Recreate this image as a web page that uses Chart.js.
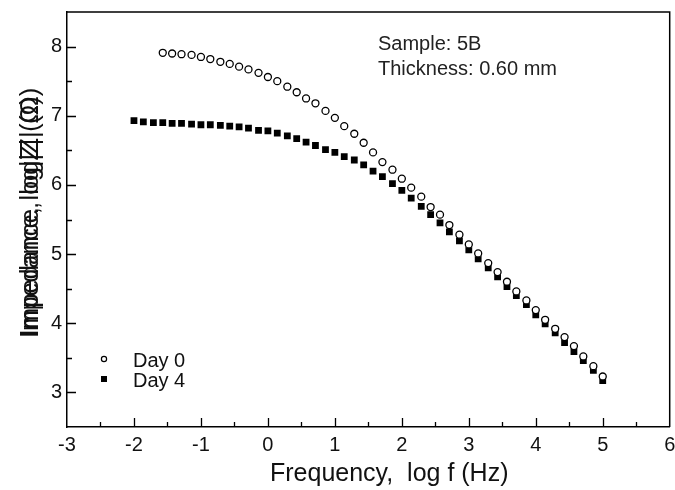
<!DOCTYPE html>
<html>
<head>
<meta charset="utf-8">
<script src="https://cdn.jsdelivr.net/npm/chart.js@4.4.0/dist/chart.umd.min.js"></script>
<style>
  html, body { margin: 0; padding: 0; background: #fff; }
</style>
</head>
<body>
<canvas id="impChart" width="675" height="490"></canvas>
<script>
'use strict';

// log f (Hz), 7 points per decade
const logFreq = [
  -2.00, -1.86, -1.71, -1.57, -1.43, -1.29, -1.14, -1.00, -0.86, -0.71,
  -0.57, -0.43, -0.29, -0.14, 0.00, 0.14, 0.29, 0.43, 0.57, 0.71,
  0.86, 1.00, 1.14, 1.29, 1.43, 1.57, 1.71, 1.86, 2.00, 2.14,
  2.29, 2.43, 2.57, 2.71, 2.86, 3.00, 3.14, 3.29, 3.43, 3.57,
  3.71, 3.86, 4.00, 4.14, 4.29, 4.43, 4.57, 4.71, 4.86, 5.00
];

// Day 0 starts at the 4th frequency
const day0 = [
  null, null, null, 7.91, 7.90, 7.89, 7.88, 7.85, 7.82, 7.78,
  7.75, 7.71, 7.67, 7.62, 7.56, 7.50, 7.42, 7.34, 7.25, 7.18,
  7.07, 6.97, 6.85, 6.74, 6.61, 6.47, 6.33, 6.22, 6.09, 5.96,
  5.83, 5.68, 5.57, 5.42, 5.28, 5.14, 5.01, 4.87, 4.74, 4.60,
  4.46, 4.33, 4.19, 4.05, 3.92, 3.80, 3.67, 3.52, 3.38, 3.23
];

const day4 = [
  6.93, 6.91, 6.90, 6.90, 6.89, 6.89, 6.88, 6.87, 6.87, 6.86,
  6.85, 6.84, 6.82, 6.79, 6.78, 6.75, 6.71, 6.67, 6.62, 6.57,
  6.51, 6.47, 6.41, 6.36, 6.29, 6.20, 6.12, 6.02, 5.92, 5.81,
  5.69, 5.57, 5.45, 5.32, 5.19, 5.06, 4.93, 4.80, 4.67, 4.53,
  4.40, 4.27, 4.12, 3.99, 3.86, 3.72, 3.59, 3.46, 3.32, 3.17
];

const xTicks = [-3, -2, -1, 0, 1, 2, 3, 4, 5, 6];
const yTicks = [3, 4, 5, 6, 7, 8];

const seriesNames = ['Day 0', 'Day 4'];
const noteLines = ['Sample: 5B', 'Thickness: 0.60 mm'];
const xTitle = 'Frequency,  log f (Hz)';
const yTitle = 'Impedance, log|Z| (\u03A9)';

const FONT = '"Liberation Sans", Arial, sans-serif';

function toPoints(values) {
  return logFreq.map((f, i) => ({x: f, y: values[i]})).filter(p => p.y !== null);
}

// inward ticks, box frame, titles, note and legend
const decorations = {
  id: 'decorations',
  afterDatasetsDraw(chart) {
    const {ctx, chartArea: a, scales: {x, y}} = chart;
    ctx.save();
    ctx.strokeStyle = '#000';
    ctx.lineWidth = 1.5;
    ctx.beginPath();
    ctx.moveTo(a.left, a.top);
    ctx.lineTo(a.right, a.top);
    ctx.lineTo(a.right, a.bottom);
    ctx.stroke();

    ctx.lineWidth = 1.3;
    ctx.beginPath();
    for (let v = x.min + 0.5; v < x.max; v += 0.5) {
      const px = Math.round(x.getPixelForValue(v)) + 0.5;
      const len = Number.isInteger(v) ? 9 : 5;
      ctx.moveTo(px, a.bottom);
      ctx.lineTo(px, a.bottom - len);
    }
    for (let v = y.min + 0.5; v < y.max; v += 0.5) {
      const py = Math.round(y.getPixelForValue(v)) + 0.5;
      const len = Number.isInteger(v) ? 9 : 5;
      ctx.moveTo(a.left, py);
      ctx.lineTo(a.left + len, py);
    }
    ctx.stroke();

    ctx.fillStyle = '#111';
    ctx.textBaseline = 'middle';

    // x axis title
    ctx.font = '25px ' + FONT;
    ctx.textAlign = 'left';
    ctx.fillText(xTitle, 270, 474);

    // y axis title (the original shows a doubled, smeared print)
    ctx.save();
    ctx.translate(31, 338);
    ctx.rotate(-Math.PI / 2);
    ctx.font = '25px ' + FONT;
    ctx.fillText(yTitle, 0, 0);
    ctx.scale(1.03, 1);
    ctx.fillText(yTitle, 1.5, 0);
    ctx.restore();

    // sample note
    ctx.font = '20px ' + FONT;
    ctx.fillStyle = '#222';
    ctx.fillText(noteLines[0], 378, 44);
    ctx.fillText(noteLines[1], 378, 69);

    // legend
    ctx.fillStyle = '#111';
    ctx.fillText(seriesNames[0], 133, 361);
    ctx.fillText(seriesNames[1], 133, 381);
    ctx.lineWidth = 1.2;
    ctx.beginPath();
    ctx.arc(104, 359, 2.6, 0, Math.PI * 2);
    ctx.fillStyle = '#fff';
    ctx.fill();
    ctx.stroke();
    ctx.fillStyle = '#000';
    ctx.fillRect(101, 376, 6, 6);
    ctx.restore();
  }
};

const ctx = document.getElementById('impChart').getContext('2d');

new Chart(ctx, {
  type: 'scatter',
  data: {
    datasets: [
      {
        label: seriesNames[0],
        data: toPoints(day0),
        pointStyle: 'circle',
        pointRadius: 3.5,
        pointBorderWidth: 1.3,
        pointBackgroundColor: '#fff',
        pointBorderColor: '#000'
      },
      {
        label: seriesNames[1],
        data: toPoints(day4),
        pointStyle: 'rect',
        pointRadius: 4.8,
        pointBorderWidth: 0,
        pointBackgroundColor: '#000',
        pointBorderColor: '#000'
      }
    ]
  },
  options: {
    responsive: false,
    animation: false,
    layout: {padding: {top: 12, right: 1, left: 0, bottom: 0}},
    plugins: {
      legend: {display: false},
      tooltip: {enabled: false}
    },
    scales: {
      x: {
        type: 'linear',
        min: -3,
        max: 6,
        grid: {display: false, drawTicks: false},
        border: {display: true, color: '#000', width: 1.5},
        ticks: {
          padding: 6,
          color: '#111',
          font: {family: FONT, size: 20},
          maxRotation: 0
        },
        afterBuildTicks(scale) {
          scale.ticks = xTicks.map(v => ({value: v}));
        },
        afterFit(scale) {
          scale.height = 63;
          scale.paddingLeft = 0;
          scale.paddingRight = 0;
        }
      },
      y: {
        type: 'linear',
        min: 2.5,
        max: 8.5,
        grid: {display: false, drawTicks: false},
        border: {display: true, color: '#000', width: 1.5},
        ticks: {
          padding: 5,
          color: '#111',
          font: {family: FONT, size: 20}
        },
        afterBuildTicks(scale) {
          scale.ticks = yTicks.map(v => ({value: v}));
        },
        afterFit(scale) {
          scale.width = 67;
          scale.paddingTop = 0;
          scale.paddingBottom = 0;
        }
      }
    }
  },
  plugins: [decorations]
});
</script>
</body>
</html>
